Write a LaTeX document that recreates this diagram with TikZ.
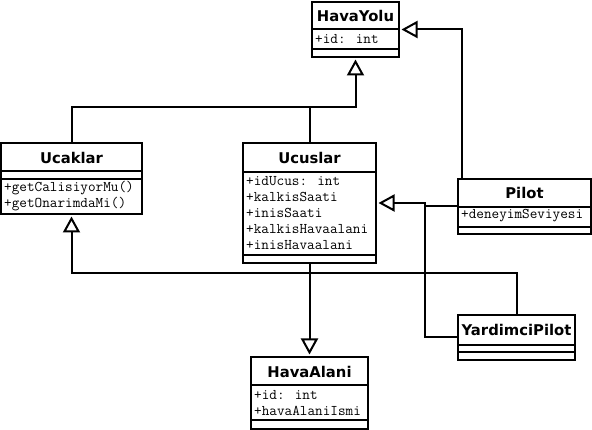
\documentclass[tikz,border=0pt]{standalone}
\usepackage{fontspec}
\newfontfamily\titlefont{DejaVu Sans}
\usetikzlibrary{arrows.meta,fit}
\tikzset{
  box/.style={draw=black, line width=2pt, inner sep=0pt, fill=white},
  sepline/.style={draw=black, line width=2pt},
  ttl/.style={font=\titlefont\bfseries\fontsize{14.8}{16}\selectfont, inner sep=0pt},
  attr/.style={font=\ttfamily\fontsize{14.8}{16}\selectfont, inner sep=0pt, anchor=west},
  conn/.style={draw=black, line width=2pt},
  gen/.style={conn, -{Triangle[open, length=16pt, width=17pt, line width=2pt]}, shorten >=1.5pt},
}
\newcommand\umlbox[5]{%
  \path (#2,#3) coordinate (#1-nw) (#4,#5) coordinate (#1-se);
  \node[box, fit=(#1-nw)(#1-se)] (#1) {};
}
\begin{document}
\begin{tikzpicture}[x=1pt,y=-1pt]
\useasboundingbox (0,0) rectangle (592,430);
\fill[white] (0,0) rectangle (592,430);

\coordinate (j1) at (355.5,107);
\coordinate (j2) at (425,203);
\coordinate (j3) at (71.5,273);

% HavaYolu
\umlbox{hy}{312}{2}{399}{57}
\draw[sepline] (312,29) -- (399,29);
\draw[sepline] (312,49) -- (399,49);
\node[ttl] (hyt) at (355.5,16) {HavaYolu};
\node[attr] (hya1) at (315,39) {+id: int};

% Ucaklar
\umlbox{uc}{1}{143}{142}{214}
\draw[sepline] (1,171) -- (142,171);
\draw[sepline] (1,179) -- (142,179);
\node[ttl] (uct) at (71.5,157.5) {Ucaklar};
\node[attr] (ucm1) at (4,188) {+getCalisiyorMu()};
\node[attr] (ucm2) at (4,204) {+getOnarimdaMi()};

% Ucuslar
\umlbox{us}{243}{143}{376}{263}
\draw[sepline] (243,172) -- (376,172);
\draw[sepline] (243,255) -- (376,255);
\node[ttl] (ust) at (309.5,157.5) {Ucuslar};
\node[attr] (usa1) at (246,181) {+idUcus: int};
\node[attr] (usa2) at (246,197) {+kalkisSaati};
\node[attr] (usa3) at (246,213) {+inisSaati};
\node[attr] (usa4) at (246,229) {+kalkisHavaalani};
\node[attr] (usa5) at (246,245) {+inisHavaalani};

% Pilot
\umlbox{pi}{458}{179}{591}{234}
\draw[sepline] (458,207) -- (591,207);
\draw[sepline] (458,227) -- (591,227);
\node[ttl] (pit) at (524.5,192.5) {Pilot};
\node[attr] (pia1) at (461,216) {+deneyimSeviyesi};

% YardimciPilot
\umlbox{yp}{458}{315}{575}{360}
\draw[sepline] (458,345) -- (575,345);
\draw[sepline] (458,352) -- (575,352);
\node[ttl] (ypt) at (516.5,329.5) {YardimciPilot};

% HavaAlani
\umlbox{ha}{251}{357}{368}{429}
\draw[sepline] (251,385) -- (368,385);
\draw[sepline] (251,420) -- (368,420);
\node[ttl] (hat) at (309.5,371.5) {HavaAlani};
\node[attr] (haa1) at (254,395) {+id: int};
\node[attr] (haa2) at (254,411) {+havaAlaniIsmi};

% generalisations
\draw[gen] (uc.north) |- (j1) -- (hy.south);
\draw[conn] (us.north) |- (j1);
\draw[gen] ([xshift=5pt]pi.north west) |- (hy.east);
\draw[gen] (pi.west) -| (j2) -- (us.east);
\draw[conn] (yp.west) -| (j2);
\draw[gen] (yp.north) |- (j3) -- (uc.south);
\draw[gen] (us.south) -- (ha.north);
\end{tikzpicture}
\end{document}
